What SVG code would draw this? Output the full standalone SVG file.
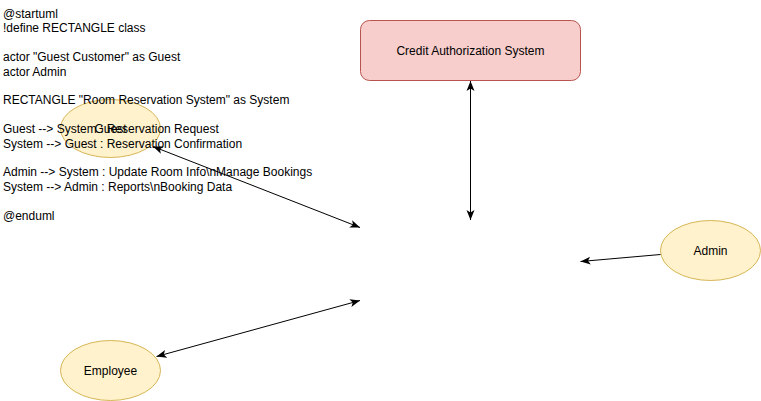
<svg xmlns="http://www.w3.org/2000/svg" width="761" height="401" viewBox="0 0 761 401">
<style>
.actor{fill:#fff2cc;stroke:#d6b656;stroke-width:1}
.lbl{font-family:"Liberation Sans",Arial,sans-serif;font-size:12px;fill:#000;text-anchor:middle;dominant-baseline:central}
.code{font-family:"Liberation Sans",Arial,sans-serif;font-size:12px;fill:#000}
.edge{stroke:#000;stroke-width:1;fill:none}
</style>
<defs>
<marker id="ah" viewBox="0 0 10 10" refX="10" refY="5" markerWidth="10" markerHeight="10" markerUnits="userSpaceOnUse" orient="auto-start-reverse">
<path d="M0,1 L10,5 L0,9 L2.5,5 Z" fill="#000"/>
</marker>
</defs>
<rect width="761" height="401" fill="#fff"/>
<g id="credit">
<rect x="360.5" y="20.5" width="220" height="60" rx="9" fill="#f8cecc" stroke="#b85450"/>
<text class="lbl" x="470.5" y="50.5">Credit Authorization System</text>
</g>
<g id="guest">
<ellipse class="actor" cx="110.5" cy="128.5" rx="50" ry="29"/>
<text class="lbl" x="110.5" y="129">Guest</text>
</g>
<g id="admin">
<ellipse class="actor" cx="710.5" cy="250.5" rx="50" ry="30"/>
<text class="lbl" x="710.5" y="250.5">Admin</text>
</g>
<g id="employee">
<ellipse class="actor" cx="110.5" cy="370.5" rx="50" ry="30"/>
<text class="lbl" x="110.5" y="370.5">Employee</text>
</g>
<g id="code">
<text class="code" x="3" y="18">@startuml</text>
<text class="code" x="3" y="32.4">!define RECTANGLE class</text>
<text class="code" x="3" y="61.2">actor "Guest Customer" as Guest</text>
<text class="code" x="3" y="75.6">actor Admin</text>
<text class="code" x="3" y="104.4">RECTANGLE "Room Reservation System" as System</text>
<text class="code" x="3" y="133.2">Guest --&gt; System : Reservation Request</text>
<text class="code" x="3" y="147.6">System --&gt; Guest : Reservation Confirmation</text>
<text class="code" x="3" y="176.4">Admin --&gt; System : Update Room Info\nManage Bookings</text>
<text class="code" x="3" y="190.8">System --&gt; Admin : Reports\nBooking Data</text>
<text class="code" x="3" y="219.6">@enduml</text>
</g>
<g id="connectors">
<line class="edge" x1="470.5" y1="81" x2="470.5" y2="220" marker-start="url(#ah)" marker-end="url(#ah)"/>
<line class="edge" x1="153" y1="146.5" x2="360" y2="227.5" marker-start="url(#ah)" marker-end="url(#ah)"/>
<line class="edge" x1="156.5" y1="356.5" x2="360" y2="300.5" marker-start="url(#ah)" marker-end="url(#ah)"/>
<line class="edge" x1="660.5" y1="254.5" x2="580.5" y2="261.5" marker-end="url(#ah)"/>
</g>
</svg>
